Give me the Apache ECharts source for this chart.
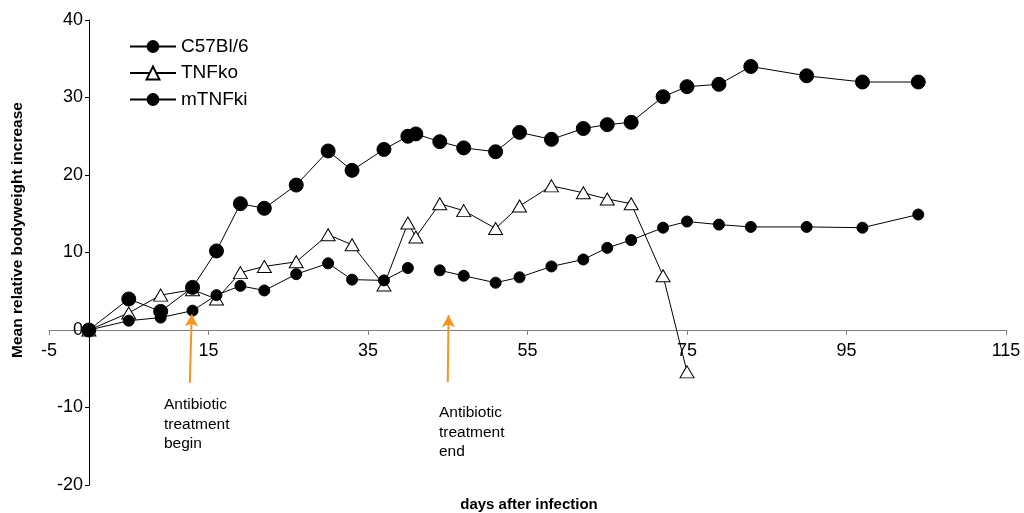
<!DOCTYPE html>
<html>
<head>
<meta charset="utf-8">
<script src="https://cdn.jsdelivr.net/npm/echarts@6/dist/echarts.min.js"></script>
<style>html,body{margin:0;padding:0;background:#fff}#c{width:1024px;height:513px}</style>
</head>
<body>
<div id="c"></div>
<script>
const days = [0,5,9,13,16,19,22,26,30,33,37,40,41,44,47,51,54,58,62,65,68,72,75,79,83,90,97,104];
const c57 = [0,4.0,2.4,5.5,10.2,16.3,15.7,18.7,23.1,20.6,23.3,25.0,25.3,24.3,23.5,23.0,25.5,24.6,26.0,26.5,26.8,30.1,31.4,31.7,34.0,32.8,32.0,32.0];
const tnfko = [0,2.2,4.5,5.2,4.0,7.4,8.2,8.8,12.3,11.0,5.8,13.8,12.0,16.3,15.4,13.1,16.0,18.6,17.7,16.9,16.3,7.0,-5.4,null,null,null,null,null];
const mtnfki = [0,1.2,1.6,2.5,4.5,5.7,5.1,7.2,8.6,6.5,6.4,8.0,null,7.7,7.0,6.1,6.8,8.2,9.1,10.6,11.6,13.2,14.0,13.6,13.3,13.3,13.2,14.9];
const seriesNames = ['C57Bl/6','TNFko','mTNFki'];
const xTicks = {min:-5, max:115, interval:20};
const yTicks = {min:-20, max:40, interval:10};
const arrowBegin = [[12.66,-6.8],[12.9,2.0]];
const arrowEnd = [[45.0,-6.7],[45.1,1.9]];
const noteBegin = ['Antibiotic','treatment','begin'];
const noteEnd = ['Antibiotic','treatment','end'];
const yName = 'Mean relative bodyweight increase';
const xName = 'days after infection';

const FONT = 'Arial, "Liberation Sans", sans-serif';

const chart = echarts.init(document.getElementById('c'), null, {renderer:'canvas'});
const arrowLine = {
  silent:true, symbol:['none','arrow'], symbolSize:[10,12],
  lineStyle:{color:'#F7941D', width:2, type:'solid'},
  label:{show:false},
  data:[
    [{coord:arrowBegin[0]},{coord:arrowBegin[1]}],
    [{coord:arrowEnd[0]},{coord:arrowEnd[1]}]
  ]
};
chart.setOption({
  animation:false,
  backgroundColor:'#fff',
  textStyle:{fontFamily:FONT},
  grid:{left:49, right:18, top:20, bottom:28, containLabel:false},
  legend:{
    orient:'vertical', left:124, top:32, itemGap:7.5, itemWidth:46, itemHeight:16,
    data:seriesNames,
    textStyle:{fontSize:19, color:'#000', fontFamily:FONT}
  },
  xAxis:{
    type:'value', min:xTicks.min, max:xTicks.max, interval:xTicks.interval,
    splitLine:{show:false}, offset:-155,
    axisLine:{show:true, onZero:false, lineStyle:{color:'#808080', width:1}},
    axisTick:{show:true, length:5, lineStyle:{color:'#808080'}},
    axisLabel:{fontSize:18, color:'#000', margin:12, fontFamily:FONT}
  },
  yAxis:{
    type:'value', min:yTicks.min, max:yTicks.max, interval:yTicks.interval,
    splitLine:{show:false}, offset:-40,
    axisLine:{show:true, onZero:false, lineStyle:{color:'#000', width:1}},
    axisTick:{show:true, length:4, lineStyle:{color:'#000'}},
    axisLabel:{fontSize:18, color:'#000', margin:6, fontFamily:FONT}
  },
  graphic:[
    {type:'text', x:18, y:230, rotation:Math.PI/2, style:{text:yName, font:'bold 15.5px '+FONT, fill:'#000', textAlign:'center', textVerticalAlign:'middle'}},
    {type:'text', x:529, y:505, style:{text:xName, font:'bold 15px '+FONT, fill:'#000', textAlign:'center', textVerticalAlign:'middle'}},
    {type:'text', x:164, y:395, style:{text:noteBegin.join('\n'), font:'15.5px '+FONT, fill:'#000', lineHeight:19.5, textAlign:'left'}},
    {type:'text', x:439, y:403, style:{text:noteEnd.join('\n'), font:'15.5px '+FONT, fill:'#000', lineHeight:19.5, textAlign:'left'}}
  ],
  series:[
    {name:seriesNames[0], type:'line', data:days.map((d,i)=>[d,c57[i]]),
     symbol:'circle', symbolSize:14, connectNulls:false,
     itemStyle:{color:'#000', borderColor:'#000'}, lineStyle:{color:'#000', width:1}, z:3},
    {name:seriesNames[1], type:'line', data:days.map((d,i)=>[d,tnfko[i]]).filter(p=>p[1]!==null),
     symbol:'triangle', symbolSize:[14,12], connectNulls:false,
     itemStyle:{color:'#fff', borderColor:'#000', borderWidth:1}, lineStyle:{color:'#000', width:1}, z:2},
    {name:seriesNames[2], type:'line', data:days.map((d,i)=>[d,mtnfki[i]]),
     symbol:'circle', symbolSize:11, connectNulls:false,
     itemStyle:{color:'#000', borderColor:'#000'}, lineStyle:{color:'#000', width:1}, z:4,
     markLine:arrowLine}
  ]
});
</script>
</body>
</html>
